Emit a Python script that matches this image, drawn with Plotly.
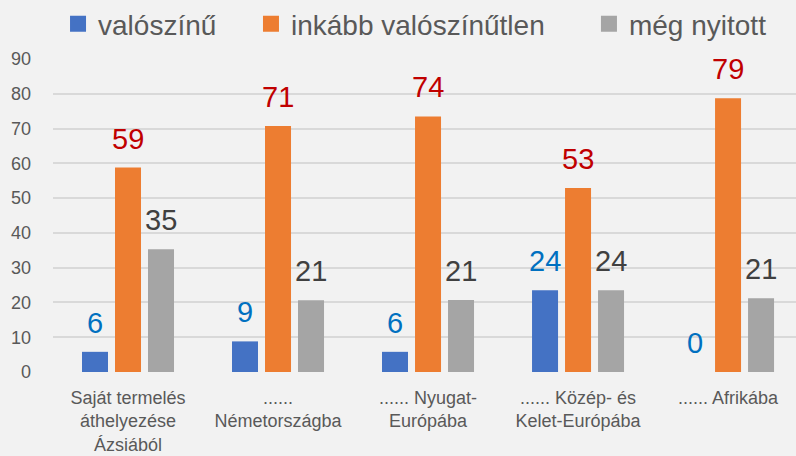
import plotly.graph_objects as go

categories = ["Saját termelés<br>áthelyezése<br>Ázsiából", "......<br>Németországba",
              "...... Nyugat-<br>Európába", "...... Közép- és<br>Kelet-Európába", "...... Afrikába"]
series_names = ["valószínű", "inkább valószínűtlen", "még nyitott"]
valoszinu = [5.8, 8.8, 5.8, 23.5, 0]
inkabb = [58.8, 70.7, 73.5, 52.9, 78.7]
nyitott = [35.3, 20.6, 20.7, 23.5, 21.2]
labels_valoszinu = [6, 9, 6, 24, 0]
labels_inkabb = [59, 71, 74, 53, 79]
labels_nyitott = [35, 21, 21, 24, 21]
y_ticks = [0, 10, 20, 30, 40, 50, 60, 70, 80, 90]

bar_colors = ["#4472C4", "#ED7D31", "#A5A5A5"]
label_colors = ["#0070C0", "#C00000", "#404040"]
FONT = "Liberation Sans, Arial, sans-serif"

fig = go.Figure()
all_vals = [valoszinu, inkabb, nyitott]
all_labels = [labels_valoszinu, labels_inkabb, labels_nyitott]
for name, vals, col in zip(series_names, all_vals, bar_colors):
    fig.add_trace(go.Bar(x=categories, y=vals, name=name, marker_color=col,
                         marker_line_width=0, showlegend=False, hoverinfo="y"))
# legend proxies (bigger square symbols), each in its own legend box
legend_ids = ["legend", "legend2", "legend3"]
legend_x = [0.0729, 0.3153, 0.7399]
for name, col, lid in zip(series_names, bar_colors, legend_ids):
    fig.add_trace(go.Scatter(x=[None], y=[None], mode="markers", name=name, legend=lid,
                             marker=dict(symbol="square", size=16, color=col)))

shifts = [-33, 0, 33]
for vals, labs, col, sh in zip(all_vals, all_labels, label_colors, shifts):
    for c, v, l in zip(categories, vals, labs):
        fig.add_annotation(x=c, y=v, text=str(l), showarrow=False, xshift=sh,
                           yanchor="bottom", yshift=11,
                           font=dict(family=FONT, size=29, color=col))

legend_style = dict(orientation="h", xref="container", yref="container",
                    y=0.947, xanchor="left", yanchor="middle",
                    font=dict(family=FONT, size=28, color="#595959"),
                    bgcolor="rgba(0,0,0,0)", itemsizing="trace")

fig.update_layout(
    width=796, height=456,
    paper_bgcolor="#F2F2F2", plot_bgcolor="#F2F2F2",
    margin=dict(l=53, r=0, t=59, b=84, autoexpand=False),
    barmode="group", bargap=0.34, bargroupgap=0.212,
    font=dict(family=FONT, color="#595959"),
    legend=dict(x=legend_x[0], **legend_style),
    legend2=dict(x=legend_x[1], **legend_style),
    legend3=dict(x=legend_x[2], **legend_style),
    xaxis=dict(range=[-0.5, 4.453], showgrid=False, zeroline=False, showline=False,
               tickfont=dict(family=FONT, size=18, color="#595959"),
               ticklabelstandoff=13),
    yaxis=dict(range=[0, 90], tickvals=y_ticks, showgrid=True, gridcolor="#D9D9D9",
               gridwidth=1.5, zeroline=False, showline=False,
               tickfont=dict(family=FONT, size=18, color="#595959"),
               ticklabelstandoff=21),
)
fig.write_html("out.html", config={"displayModeBar": False},
               post_script="document.body.style.margin='0';document.body.style.background='#F2F2F2';")
